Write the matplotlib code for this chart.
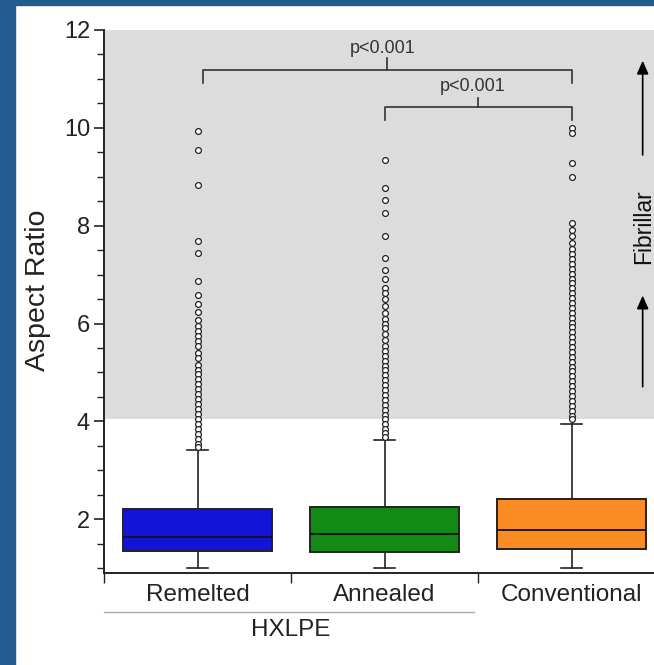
import matplotlib.pyplot as plt
from matplotlib.patches import Rectangle
from matplotlib.ticker import MultipleLocator, FixedLocator, NullFormatter
import matplotlib.transforms as mtransforms

plt.rcParams['font.family'] = ['Liberation Sans', 'DejaVu Sans']

categories = ["Remelted", "Annealed", "Conventional"]
colors = ["#1414d8", "#138a13", "#fb8c24"]
q1 = [1.35, 1.33, 1.39]
medians = [1.63, 1.69, 1.78]
q3 = [2.20, 2.25, 2.42]
whis_lo = [1.0, 1.0, 1.0]
whis_hi = [3.42, 3.61, 3.95]

# outliers, top to bottom
remelted_out = [9.94, 9.55, 8.84, 7.68, 7.45, 6.86, 6.58, 6.39, 6.23, 6.08,
                5.94, 5.84, 5.74, 5.64, 5.54, 5.40, 5.30, 5.16, 5.06, 4.96,
                4.86, 4.76, 4.66, 4.55, 4.45, 4.35, 4.25, 4.15, 4.05, 3.94,
                3.84, 3.74, 3.64, 3.54, 3.47]
annealed_out = [9.35, 8.77, 8.53, 8.26, 7.78, 7.34, 7.09, 6.90, 6.73, 6.63,
                6.50, 6.36, 6.22, 6.10, 6.00, 5.90, 5.78, 5.66, 5.55, 5.44,
                5.34, 5.24, 5.14, 5.04, 4.94, 4.84, 4.74, 4.64, 4.54, 4.44,
                4.34, 4.24, 4.14, 4.04, 3.94, 3.84, 3.76, 3.68]
conventional_out = [10.00, 9.90, 9.29, 9.00, 8.06, 7.92, 7.78, 7.65, 7.52, 7.42,
                    7.32, 7.22, 7.12, 7.02, 6.92, 6.82, 6.72, 6.62, 6.52, 6.42,
                    6.32, 6.22, 6.12, 6.02, 5.92, 5.82, 5.72, 5.62, 5.52, 5.42,
                    5.32, 5.22, 5.12, 5.02, 4.92, 4.82, 4.72, 4.62, 4.52, 4.42,
                    4.32, 4.22, 4.12, 4.04]
outliers = [remelted_out, annealed_out, conventional_out]

p_text = "p<0.001"
group_label = "HXLPE"
side_label = "Fibrillar"

fig = plt.figure(figsize=(6.54, 6.65), dpi=100)
ax = fig.add_axes([0.159, 0.1383, 0.858, 0.8166])

# frame strips of the source page
fig.patches.append(Rectangle((0, 0), 15 / 654, 1, transform=fig.transFigure,
                             color="#245b8f", zorder=0))
fig.patches.append(Rectangle((0, 1 - 5 / 665), 1, 5 / 665, transform=fig.transFigure,
                             color="#245b8f", zorder=0))

ax.axhspan(4.05, 12, color="#dcdcdc", lw=0, zorder=0)

stats = []
for i, name in enumerate(categories):
    stats.append(dict(label=name, q1=q1[i], med=medians[i], q3=q3[i],
                      whislo=whis_lo[i], whishi=whis_hi[i], fliers=outliers[i]))

bp = ax.bxp(stats, positions=[1, 2, 3], widths=0.8, patch_artist=True,
            capwidths=0.11, manage_ticks=False,
            boxprops=dict(edgecolor="#222222", linewidth=1.4),
            medianprops=dict(color="#111111", linewidth=1.3),
            whiskerprops=dict(color="#222222", linewidth=1.2),
            capprops=dict(color="#222222", linewidth=1.2),
            flierprops=dict(marker="o", markersize=4.2, markerfacecolor="white",
                            markeredgecolor="#222222", markeredgewidth=0.9))
for patch, c in zip(bp["boxes"], colors):
    patch.set_facecolor(c)

# significance brackets
ax.plot([1.03, 1.03, 3.0, 3.0], [10.92, 11.18, 11.18, 10.92], color="#333333", lw=1.2)
ax.plot([2.015, 2.015], [11.18, 11.43], color="#333333", lw=1.2)
ax.text(1.99, 11.63, p_text, ha="center", va="center", fontsize=13, color="#333333")
ax.plot([2.0, 2.0, 3.0, 3.0], [10.16, 10.42, 10.42, 10.16], color="#333333", lw=1.2)
ax.plot([2.5, 2.5], [10.42, 10.61], color="#333333", lw=1.2)
ax.text(2.47, 10.84, p_text, ha="center", va="center", fontsize=13, color="#333333")

# fibrillar arrows
ax.annotate("", xy=(3.38, 11.43), xytext=(3.38, 9.39),
            arrowprops=dict(arrowstyle="-|>,head_length=0.5,head_width=0.22",
                            color="black", lw=1.2, mutation_scale=16))
ax.annotate("", xy=(3.38, 6.63), xytext=(3.38, 4.65),
            arrowprops=dict(arrowstyle="-|>,head_length=0.5,head_width=0.22",
                            color="black", lw=1.2, mutation_scale=16))
ax.text(3.385, 7.98, side_label, rotation=90, ha="center", va="center",
        fontsize=16.5, color="#111111")

ax.set_xlim(0.5, 3.5)
ax.set_ylim(0.9, 12)

for s in ["top", "right"]:
    ax.spines[s].set_visible(False)
ax.spines["left"].set_linewidth(1.4)
ax.spines["bottom"].set_linewidth(1.4)
ax.spines["left"].set_color("#222222")
ax.spines["bottom"].set_color("#222222")

ax.yaxis.set_minor_locator(MultipleLocator(0.5))
ax.set_yticks([2, 4, 6, 8, 10, 12])
ax.tick_params(axis="y", which="major", length=7, width=1.2, pad=3,
               labelsize=17, colors="#222222")
ax.tick_params(axis="y", which="minor", length=5, width=1.0, color="#222222")

ax.xaxis.set_major_locator(FixedLocator([0.5, 1.5, 2.5, 3.5]))
ax.xaxis.set_major_formatter(NullFormatter())
ax.set_xticks([1, 2, 3], categories, minor=True)
ax.tick_params(axis="x", which="major", length=7, width=1.0, color="#222222")
ax.tick_params(axis="x", which="minor", length=0, pad=8, labelsize=17.5,
               labelcolor="#222222")

ax.set_ylabel("Aspect Ratio", fontsize=20.5, color="#222222")
ax.yaxis.set_label_coords(-0.094, 0.52)

# group line and label under the first two categories
trans = mtransforms.blended_transform_factory(ax.transData, ax.transAxes)
ax.plot([0.5, 2.48], [-0.071, -0.071], color="#aaaaaa", lw=1.0,
        transform=trans, clip_on=False)
ax.text(1.5, -0.105, group_label, transform=trans, ha="center", va="center",
        fontsize=17.5, color="#222222")

fig.savefig("out.png", dpi=100)
